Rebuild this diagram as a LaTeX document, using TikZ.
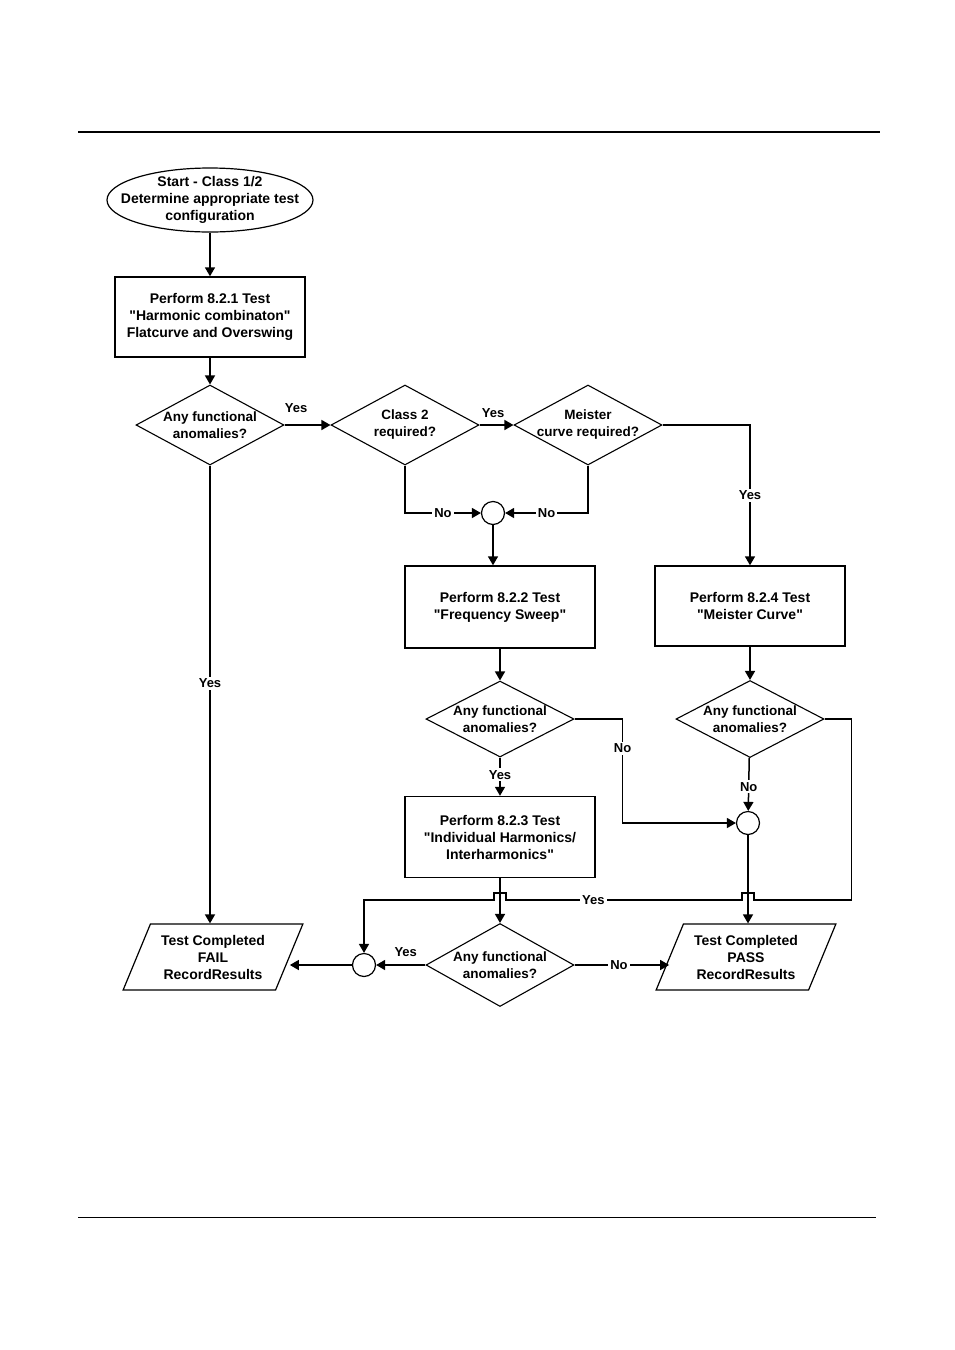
\documentclass[tikz,border=0pt]{standalone}
\usepackage{fontspec}
\setmainfont{Liberation Sans}[Ligatures=TeXOff]
\usetikzlibrary{arrows.meta,positioning,shapes.geometric}
\tikzset{
  startnode/.style={ellipse, draw, line width=1.2pt, minimum width=206pt, minimum height=64pt, inner sep=0pt},
  starttext/.style={align=center, inner sep=0pt, font=\fontsize{14}{17}\selectfont\bfseries},
  procbox/.style={draw, line width=1.4pt, minimum width=190pt, minimum height=80pt, align=center, font=\fontsize{14}{17}\selectfont\bfseries},
  decision/.style={diamond, draw, line width=1.1pt, inner sep=0pt, minimum width=148pt, minimum height=80pt},
  dtext/.style={align=center, inner sep=0pt, font=\fontsize{13.5}{17}\selectfont\bfseries},
  endbox/.style={trapezium, trapezium left angle=64, trapezium right angle=116, trapezium stretches=true, draw, line width=1.2pt, minimum width=180pt, minimum height=66pt, inner sep=2pt, align=center, font=\fontsize{14}{17}\selectfont\bfseries},
  joint/.style={circle, draw, line width=1.2pt, minimum size=23pt, inner sep=0pt},
  arr/.style={-{Triangle[length=9pt,width=10pt]}, line width=1.5pt},
  lbl/.style={fill=white, inner sep=2pt, font=\fontsize{13}{15}\selectfont\bfseries}
}
\begin{document}
\begin{tikzpicture}[x=1pt,y=-1pt]
  \useasboundingbox (0,0) rectangle (954,1350);
  % page rules
  \draw[line width=1.5pt] (78,132) -- (880,132);
  \draw[line width=1pt] (78,1217) -- (876,1217);

  \node[startnode] (start) at (210,200) {};
  \node[starttext] (startTxt) at (start.center) {Start - Class 1/2\\Determine appropriate test\\configuration};

  \node[procbox] (t821) at (210,317) {Perform 8.2.1 Test\\"Harmonic combinaton"\\Flatcurve and Overswing};
  \node[decision, label={[dtext]center:Any functional\\anomalies?}] (dAny1) at (210,425) {};
  \node[decision, label={[dtext]center:Class 2\\required?}] (dClass) at (405,425) {};
  \node[decision, label={[dtext]center:Meister\\curve required?}] (dMeister) at (588,425) {};

  \node[joint] (j1) at (493,513) {};
  \node[procbox, minimum height=82pt] (t822) at (500,607) {Perform 8.2.2 Test\\"Frequency Sweep"};
  \node[procbox] (t824) at (750,606) {Perform 8.2.4 Test\\"Meister Curve"};

  \node[decision, minimum height=76pt, label={[dtext]center:Any functional\\anomalies?}] (dAny2) at (500,719) {};
  \node[decision, minimum height=77pt, label={[dtext]center:Any functional\\anomalies?}] (dAny3) at (750,719) {};
  \node[joint] (j2) at (748,823) {};

  \node[procbox, minimum height=81pt] (t823) at (500,837) {Perform 8.2.3 Test\\"Individual Harmonics/\\Interharmonics"};
  \node[decision, minimum height=83pt, label={[dtext]center:Any functional\\anomalies?}] (dAny4) at (500,965) {};
  \node[joint] (j3) at (364,965) {};

  \node[endbox] (fail) at (213,957) {Test Completed\\FAIL\\RecordResults};
  \node[endbox] (pass) at (746,957) {Test Completed\\PASS\\RecordResults};

  \coordinate (jumpY) at (0,900);

  % top part
  \draw[arr] (start) -- (t821);
  \draw[arr] (t821) -- (dAny1);
  \draw[arr] (dAny1.east) -- node[lbl, fill=none, above=10pt, pos=0.25] {Yes} (dClass.west);
  \draw[arr] (dClass.east) -- node[lbl, fill=none, above=5pt, pos=0.4] {Yes} (dMeister.west);
  \draw[arr] (dAny1.south) -- node[lbl, pos=0.476] {Yes} (dAny1.south |- fail.north);

  % into the first joint
  \draw[arr] (dClass.south) |- node[lbl, pos=0.75] {No} (j1.west);
  \draw[arr] (dMeister.south) |- node[lbl, pos=0.75] {No} (j1.east);
  \draw[arr] (j1) -- (j1 |- t822.north);
  \draw[arr] (dMeister.east) -| node[lbl, pos=0.75] {Yes} (t824.north);

  % middle part
  \draw[arr] (t822) -- (dAny2);
  \draw[arr] (dAny2) -- node[lbl, pos=0.45] {Yes} (t823);
  \draw[arr] (dAny2.east) -- ++(48,0) |- node[lbl, pos=0.14] {No} (j2.west);
  \draw[arr] (t824) -- (dAny3);
  \draw[arr] (dAny3) -- node[lbl, pos=0.55] {No} (j2);

  % yes from the right, jumping over two lines
  \draw[arr] (dAny3.east) -- ++(27,0) |- ([xshift=6pt]j2.south |- jumpY) -- ++(0,-7) -- ++(-12,0) -- ++(0,7)
    -- node[lbl, pos=0.63] {Yes} ([xshift=6pt]t823.south |- jumpY) -- ++(0,-7) -- ++(-12,0) -- ++(0,7) -| (j3.north);
  \draw[arr] (j2) -- (j2 |- pass.north);
  \draw[arr] (t823) -- (dAny4);

  % bottom part
  \draw[arr] (dAny4.west) -- node[lbl, fill=none, above=6pt, pos=0.4] {Yes} (j3.east);
  \draw[arr] (j3.west) -- (j3.west -| fail.east);
  \draw[arr] (dAny4.east) -- node[lbl, pos=0.47] {No} (dAny4.east -| pass.west);
\end{tikzpicture}
\end{document}
